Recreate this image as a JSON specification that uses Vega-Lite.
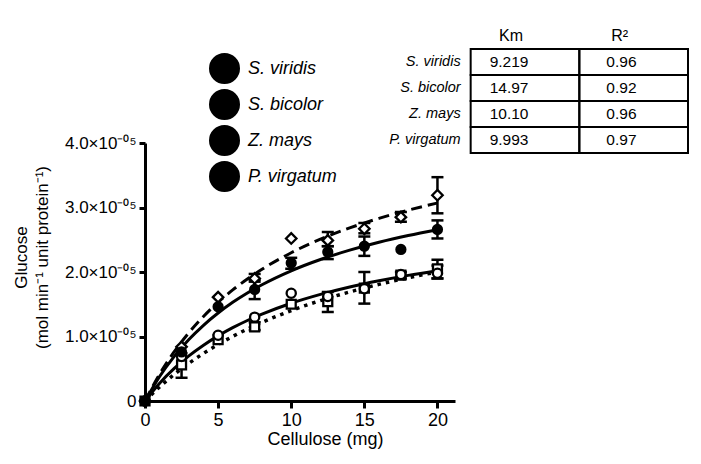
{
  "$schema": "https://vega.github.io/schema/vega-lite/v6.json",
  "width": 310,
  "height": 258,
  "autosize": "none",
  "padding": {"left": 145, "top": 143, "right": 246, "bottom": 63},
  "background": "white",
  "config": {
    "font": "Liberation Sans",
    "view": {"stroke": null},
    "axis": {"grid": false, "domainColor": "black", "tickColor": "black", "labelColor": "black", "titleColor": "black", "domainWidth": 3, "tickWidth": 3, "labelFlush": false},
    "legend": {
      "orient": "none", "legendX": 64, "legendY": -90, "title": null, "padding": 0,
      "symbolSize": 784, "symbolStrokeWidth": 3, "labelFontSize": 18, "labelFontStyle": "italic", "labelColor": "black", "labelOffset": 8, "rowPadding": -13, "labelLimit": 300
    }
  },
  "datasets": {
    "curves": [
      {"species": "S. viridis", "x": 0, "y": 0}, {"species": "S. viridis", "x": 1, "y": 0.38}, {"species": "S. viridis", "x": 2, "y": 0.692}, {"species": "S. viridis", "x": 3, "y": 0.953}, {"species": "S. viridis", "x": 4, "y": 1.174}, {"species": "S. viridis", "x": 5, "y": 1.364}, {"species": "S. viridis", "x": 6, "y": 1.53}, {"species": "S. viridis", "x": 7, "y": 1.675}, {"species": "S. viridis", "x": 8, "y": 1.803}, {"species": "S. viridis", "x": 10, "y": 2.019}, {"species": "S. viridis", "x": 12, "y": 2.194}, {"species": "S. viridis", "x": 14, "y": 2.339}, {"species": "S. viridis", "x": 16, "y": 2.462}, {"species": "S. viridis", "x": 18, "y": 2.566}, {"species": "S. viridis", "x": 20, "y": 2.656},
      {"species": "S. bicolor", "x": 0, "y": 0}, {"species": "S. bicolor", "x": 1, "y": 0.219}, {"species": "S. bicolor", "x": 2, "y": 0.412}, {"species": "S. bicolor", "x": 3, "y": 0.584}, {"species": "S. bicolor", "x": 4, "y": 0.738}, {"species": "S. bicolor", "x": 5, "y": 0.876}, {"species": "S. bicolor", "x": 6, "y": 1.001}, {"species": "S. bicolor", "x": 7, "y": 1.115}, {"species": "S. bicolor", "x": 8, "y": 1.219}, {"species": "S. bicolor", "x": 10, "y": 1.402}, {"species": "S. bicolor", "x": 12, "y": 1.557}, {"species": "S. bicolor", "x": 14, "y": 1.691}, {"species": "S. bicolor", "x": 16, "y": 1.808}, {"species": "S. bicolor", "x": 18, "y": 1.911}, {"species": "S. bicolor", "x": 20, "y": 2.002},
      {"species": "Z. mays", "x": 0, "y": 0}, {"species": "Z. mays", "x": 1, "y": 0.416}, {"species": "Z. mays", "x": 2, "y": 0.764}, {"species": "Z. mays", "x": 3, "y": 1.058}, {"species": "Z. mays", "x": 4, "y": 1.311}, {"species": "Z. mays", "x": 5, "y": 1.53}, {"species": "Z. mays", "x": 6, "y": 1.722}, {"species": "Z. mays", "x": 7, "y": 1.891}, {"species": "Z. mays", "x": 8, "y": 2.042}, {"species": "Z. mays", "x": 10, "y": 2.299}, {"species": "Z. mays", "x": 12, "y": 2.509}, {"species": "Z. mays", "x": 14, "y": 2.684}, {"species": "Z. mays", "x": 16, "y": 2.832}, {"species": "Z. mays", "x": 18, "y": 2.959}, {"species": "Z. mays", "x": 20, "y": 3.07},
      {"species": "P. virgatum", "x": 0, "y": 0}, {"species": "P. virgatum", "x": 1, "y": 0.276}, {"species": "P. virgatum", "x": 2, "y": 0.505}, {"species": "P. virgatum", "x": 3, "y": 0.7}, {"species": "P. virgatum", "x": 4, "y": 0.866}, {"species": "P. virgatum", "x": 5, "y": 1.01}, {"species": "P. virgatum", "x": 6, "y": 1.137}, {"species": "P. virgatum", "x": 7, "y": 1.248}, {"species": "P. virgatum", "x": 8, "y": 1.347}, {"species": "P. virgatum", "x": 10, "y": 1.516}, {"species": "P. virgatum", "x": 12, "y": 1.653}, {"species": "P. virgatum", "x": 14, "y": 1.768}, {"species": "P. virgatum", "x": 16, "y": 1.865}, {"species": "P. virgatum", "x": 18, "y": 1.948}, {"species": "P. virgatum", "x": 20, "y": 2.02}
    ],
    "points": [
      {"species": "S. viridis", "x": 0, "y": 0}, {"species": "S. viridis", "x": 2.5, "y": 0.76}, {"species": "S. viridis", "x": 5, "y": 1.46}, {"species": "S. viridis", "x": 7.5, "y": 1.73}, {"species": "S. viridis", "x": 10, "y": 2.14}, {"species": "S. viridis", "x": 12.5, "y": 2.31}, {"species": "S. viridis", "x": 15, "y": 2.4}, {"species": "S. viridis", "x": 17.5, "y": 2.35}, {"species": "S. viridis", "x": 20, "y": 2.66},
      {"species": "S. bicolor", "x": 0, "y": 0}, {"species": "S. bicolor", "x": 2.5, "y": 0.56}, {"species": "S. bicolor", "x": 5, "y": 0.95}, {"species": "S. bicolor", "x": 7.5, "y": 1.15}, {"species": "S. bicolor", "x": 10, "y": 1.5}, {"species": "S. bicolor", "x": 12.5, "y": 1.54}, {"species": "S. bicolor", "x": 15, "y": 1.75}, {"species": "S. bicolor", "x": 17.5, "y": 1.95}, {"species": "S. bicolor", "x": 20, "y": 2.05},
      {"species": "Z. mays", "x": 0, "y": 0}, {"species": "Z. mays", "x": 2.5, "y": 0.84}, {"species": "Z. mays", "x": 5, "y": 1.61}, {"species": "Z. mays", "x": 7.5, "y": 1.9}, {"species": "Z. mays", "x": 10, "y": 2.52}, {"species": "Z. mays", "x": 12.5, "y": 2.49}, {"species": "Z. mays", "x": 15, "y": 2.67}, {"species": "Z. mays", "x": 17.5, "y": 2.85}, {"species": "Z. mays", "x": 20, "y": 3.19},
      {"species": "P. virgatum", "x": 0, "y": 0}, {"species": "P. virgatum", "x": 2.5, "y": 0.69}, {"species": "P. virgatum", "x": 5, "y": 1.02}, {"species": "P. virgatum", "x": 7.5, "y": 1.3}, {"species": "P. virgatum", "x": 10, "y": 1.67}, {"species": "P. virgatum", "x": 12.5, "y": 1.62}, {"species": "P. virgatum", "x": 15, "y": 1.74}, {"species": "P. virgatum", "x": 17.5, "y": 1.96}, {"species": "P. virgatum", "x": 20, "y": 1.98}
    ],
    "errors": [
      {"species": "S. viridis", "x": 7.5, "lo": 1.58, "hi": 1.88}, {"species": "S. viridis", "x": 10, "lo": 2.05, "hi": 2.22}, {"species": "S. viridis", "x": 12.5, "lo": 2.2, "hi": 2.4}, {"species": "S. viridis", "x": 15, "lo": 2.25, "hi": 2.55}, {"species": "S. viridis", "x": 20, "lo": 2.52, "hi": 2.8},
      {"species": "S. bicolor", "x": 2.5, "lo": 0.36, "hi": 0.74}, {"species": "S. bicolor", "x": 7.5, "lo": 1.1, "hi": 1.22}, {"species": "S. bicolor", "x": 12.5, "lo": 1.38, "hi": 1.69}, {"species": "S. bicolor", "x": 15, "lo": 1.51, "hi": 2.0}, {"species": "S. bicolor", "x": 17.5, "lo": 1.9, "hi": 2.0}, {"species": "S. bicolor", "x": 20, "lo": 1.9, "hi": 2.19},
      {"species": "Z. mays", "x": 7.5, "lo": 1.85, "hi": 1.97}, {"species": "Z. mays", "x": 12.5, "lo": 2.4, "hi": 2.62}, {"species": "Z. mays", "x": 15, "lo": 2.6, "hi": 2.76}, {"species": "Z. mays", "x": 17.5, "lo": 2.78, "hi": 2.93}, {"species": "Z. mays", "x": 20, "lo": 2.91, "hi": 3.47},
      {"species": "P. virgatum", "x": 20, "lo": 1.9, "hi": 2.1}
    ],
    "fits": [
      {"species": "S. viridis", "Km": "9.219", "R2": "0.96"},
      {"species": "S. bicolor", "Km": "14.97", "R2": "0.92"},
      {"species": "Z. mays", "Km": "10.10", "R2": "0.96"},
      {"species": "P. virgatum", "Km": "9.993", "R2": "0.97"}
    ],
    "headers": [{"col": "Km"}, {"col": "R²"}]
  },
  "layer": [
    {
      "layer": [
        {
          "data": {"name": "curves"},
          "transform": [{"filter": "datum.species === 'S. viridis' || datum.species === 'P. virgatum'"}],
          "mark": {"type": "line", "color": "black", "strokeWidth": 3, "interpolate": "monotone"},
          "encoding": {
            "x": {"field": "x", "type": "quantitative", "scale": {"domain": [0, 21.2], "nice": false, "zero": false},
              "axis": {"values": [0, 5, 10, 15, 20], "format": "d", "labelFontSize": 18, "tickSize": 7, "labelPadding": 3, "title": "Cellulose (mg)", "titleFontSize": 18, "titleFontWeight": "normal", "titleX": 180, "titlePadding": 1}},
            "y": {"field": "y", "type": "quantitative", "scale": {"domain": [0, 4], "nice": false},
              "axis": {"values": [0, 1, 2, 3, 4], "labelExpr": "datum.value == 0 ? '0' : format(datum.value, '.1f') + '×10⁻⁰⁵'", "labelFontSize": 17, "tickSize": 6, "labelPadding": 3, "title": ["Glucose", "(mol min⁻¹ unit protein⁻¹)"], "titleFontSize": 17, "titleFontWeight": "normal", "titleLineHeight": 21, "titlePadding": 13, "titleY": 114}},
            "detail": {"field": "species", "type": "nominal"}
          }
        },
        {
          "data": {"name": "curves"},
          "transform": [{"filter": "datum.species === 'Z. mays'"}],
          "mark": {"type": "line", "color": "black", "strokeWidth": 3, "strokeDash": [11, 6], "interpolate": "monotone"},
          "encoding": {
            "x": {"field": "x", "type": "quantitative"},
            "y": {"field": "y", "type": "quantitative"}
          }
        },
        {
          "data": {"name": "curves"},
          "transform": [{"filter": "datum.species === 'S. bicolor'"}],
          "mark": {"type": "line", "color": "black", "strokeWidth": 3.5, "strokeDash": [3.5, 5], "interpolate": "monotone"},
          "encoding": {
            "x": {"field": "x", "type": "quantitative"},
            "y": {"field": "y", "type": "quantitative"}
          }
        },
        {
          "data": {"name": "errors"},
          "mark": {"type": "rule", "color": "black", "strokeWidth": 2.5},
          "encoding": {
            "x": {"field": "x", "type": "quantitative"},
            "y": {"field": "lo", "type": "quantitative"},
            "y2": {"field": "hi"}
          }
        },
        {
          "data": {"name": "errors"},
          "mark": {"type": "tick", "orient": "horizontal", "color": "black", "size": 12, "thickness": 2.5, "opacity": 1},
          "encoding": {
            "x": {"field": "x", "type": "quantitative"},
            "y": {"field": "lo", "type": "quantitative"}
          }
        },
        {
          "data": {"name": "errors"},
          "mark": {"type": "tick", "orient": "horizontal", "color": "black", "size": 12, "thickness": 2.5, "opacity": 1},
          "encoding": {
            "x": {"field": "x", "type": "quantitative"},
            "y": {"field": "hi", "type": "quantitative"}
          }
        },
        {
          "data": {"name": "points"},
          "transform": [{"filter": "datum.species === 'S. bicolor'"}],
          "mark": {"type": "point", "shape": "square", "size": 80, "filled": false, "fill": "white", "stroke": "black", "strokeWidth": 2.3, "opacity": 1},
          "encoding": {
            "x": {"field": "x", "type": "quantitative"},
            "y": {"field": "y", "type": "quantitative"}
          }
        },
        {
          "data": {"name": "points"},
          "transform": [{"filter": "datum.species === 'P. virgatum'"}],
          "mark": {"type": "point", "shape": "circle", "size": 85, "filled": false, "fill": "white", "stroke": "black", "strokeWidth": 2.3, "opacity": 1},
          "encoding": {
            "x": {"field": "x", "type": "quantitative"},
            "y": {"field": "y", "type": "quantitative"}
          }
        },
        {
          "data": {"name": "points"},
          "transform": [{"filter": "datum.species === 'Z. mays'"}],
          "mark": {"type": "point", "shape": "diamond", "size": 110, "filled": false, "fill": "white", "stroke": "black", "strokeWidth": 2.3, "opacity": 1},
          "encoding": {
            "x": {"field": "x", "type": "quantitative"},
            "y": {"field": "y", "type": "quantitative"}
          }
        },
        {
          "data": {"name": "points"},
          "transform": [{"filter": "datum.species === 'S. viridis'"}],
          "mark": {"type": "point", "shape": "circle", "size": 80, "filled": false, "fill": "black", "strokeWidth": 2.3, "opacity": 1},
          "encoding": {
            "x": {"field": "x", "type": "quantitative"},
            "y": {"field": "y", "type": "quantitative"},
            "color": {"field": "species", "type": "nominal",
              "scale": {"domain": ["S. viridis", "S. bicolor", "Z. mays", "P. virgatum"], "range": ["black", "black", "black", "black"]},
              "legend": {
                "encode": {"symbols": {
                  "shape": {
                    "condition": [
                      {"test": "datum.value === 'S. viridis'", "value": "M-1,0H-0.36M0.36,0H1M0.36,0A0.36,0.36,0,1,1,-0.36,0A0.36,0.36,0,1,1,0.36,0Z"},
                      {"test": "datum.value === 'S. bicolor'", "value": "M-0.7,0H-0.32M0.32,0H0.7M-0.32,-0.32H0.32V0.32H-0.32ZM-0.16,0H0.16"},
                      {"test": "datum.value === 'Z. mays'", "value": "M-1,0H-0.36M0.36,0H1M0,-0.42L0.36,0L0,0.42L-0.36,0Z"}
                    ],
                    "value": "M-1,0H1M0.36,0A0.36,0.36,0,1,1,-0.36,0A0.36,0.36,0,1,1,0.36,0Z"
                  },
                  "fill": {"condition": {"test": "datum.value === 'S. viridis'", "value": "black"}, "value": "white"},
                  "opacity": {"value": 1},
                  "size": {"value": 784},
                  "strokeWidth": {"value": 3}
                }}
              }}
          }
        }
      ]
    },
    {
      "layer": [
        {
          "data": {"name": "fits"},
          "mark": {"type": "rect", "filled": false, "stroke": "black", "strokeWidth": 2},
          "encoding": {
            "x": {"datum": "Km", "type": "nominal", "axis": null, "scale": {"type": "band", "domain": ["label", "Km", "R²"], "range": [217, 543], "paddingInner": 0, "paddingOuter": 0}},
            "y": {"field": "species", "type": "nominal", "axis": null, "scale": {"type": "band", "domain": ["header", "S. viridis", "S. bicolor", "Z. mays", "P. virgatum"], "range": [-120, 10], "paddingInner": 0, "paddingOuter": 0}}
          }
        },
        {
          "data": {"name": "fits"},
          "mark": {"type": "rect", "filled": false, "stroke": "black", "strokeWidth": 2},
          "encoding": {
            "x": {"datum": "R²", "type": "nominal", "axis": null, "scale": {"type": "band", "domain": ["label", "Km", "R²"], "range": [217, 543], "paddingInner": 0, "paddingOuter": 0}},
            "y": {"field": "species", "type": "nominal", "axis": null, "scale": {"type": "band", "domain": ["header", "S. viridis", "S. bicolor", "Z. mays", "P. virgatum"], "range": [-120, 10], "paddingInner": 0, "paddingOuter": 0}}
          }
        },
        {
          "data": {"name": "fits"},
          "mark": {"type": "text", "align": "right", "dx": -10, "fontSize": 14.5, "fontStyle": "italic", "color": "black"},
          "encoding": {
            "x": {"datum": "label", "type": "nominal", "bandPosition": 1, "axis": null, "scale": {"type": "band", "domain": ["label", "Km", "R²"], "range": [217, 543], "paddingInner": 0, "paddingOuter": 0}},
            "y": {"field": "species", "type": "nominal", "axis": null, "scale": {"type": "band", "domain": ["header", "S. viridis", "S. bicolor", "Z. mays", "P. virgatum"], "range": [-120, 10], "paddingInner": 0, "paddingOuter": 0}},
            "text": {"field": "species"}
          }
        },
        {
          "data": {"name": "fits"},
          "mark": {"type": "text", "align": "left", "dx": 19, "fontSize": 15.5, "color": "black"},
          "encoding": {
            "x": {"datum": "Km", "type": "nominal", "bandPosition": 0, "axis": null, "scale": {"type": "band", "domain": ["label", "Km", "R²"], "range": [217, 543], "paddingInner": 0, "paddingOuter": 0}},
            "y": {"field": "species", "type": "nominal", "axis": null, "scale": {"type": "band", "domain": ["header", "S. viridis", "S. bicolor", "Z. mays", "P. virgatum"], "range": [-120, 10], "paddingInner": 0, "paddingOuter": 0}},
            "text": {"field": "Km"}
          }
        },
        {
          "data": {"name": "fits"},
          "mark": {"type": "text", "align": "left", "dx": 27, "fontSize": 15.5, "color": "black"},
          "encoding": {
            "x": {"datum": "R²", "type": "nominal", "bandPosition": 0, "axis": null, "scale": {"type": "band", "domain": ["label", "Km", "R²"], "range": [217, 543], "paddingInner": 0, "paddingOuter": 0}},
            "y": {"field": "species", "type": "nominal", "axis": null, "scale": {"type": "band", "domain": ["header", "S. viridis", "S. bicolor", "Z. mays", "P. virgatum"], "range": [-120, 10], "paddingInner": 0, "paddingOuter": 0}},
            "text": {"field": "R2"}
          }
        },
        {
          "data": {"name": "headers"},
          "mark": {"type": "text", "align": "center", "dx": -14, "fontSize": 16, "color": "black"},
          "encoding": {
            "x": {"field": "col", "type": "nominal", "axis": null, "scale": {"type": "band", "domain": ["label", "Km", "R²"], "range": [217, 543], "paddingInner": 0, "paddingOuter": 0}},
            "y": {"datum": "header", "type": "nominal", "axis": null, "scale": {"type": "band", "domain": ["header", "S. viridis", "S. bicolor", "Z. mays", "P. virgatum"], "range": [-120, 10], "paddingInner": 0, "paddingOuter": 0}},
            "text": {"field": "col"}
          }
        }
      ]
    }
  ],
  "resolve": {"scale": {"x": "independent", "y": "independent"}}
}
